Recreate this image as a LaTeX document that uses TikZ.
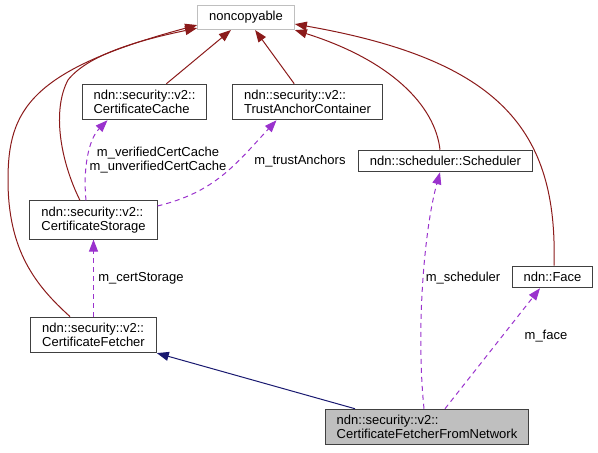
\documentclass[tikz,border=0pt]{standalone}
\usepackage{fontspec}
\setmainfont{Liberation Sans}
\usetikzlibrary{arrows.meta,positioning,calc}
\definecolor{edgered}{RGB}{139,26,26}
\definecolor{memberpurple}{RGB}{154,50,205}
\definecolor{inhnavy}{RGB}{25,25,112}
\definecolor{boxgray}{RGB}{191,191,191}

\begin{document}
\begin{tikzpicture}[x=1pt, y=-1pt, node distance=77pt,
    cls/.style={draw=black!75, line width=1pt, rectangle, fill=white, align=left,
        inner xsep=11.5pt, inner ysep=6pt, font=\fontsize{13}{14}\selectfont},
    inh/.style={draw=edgered, line width=1pt, -{Triangle[length=12pt,width=9pt]}},
    pubinh/.style={draw=inhnavy, line width=1pt, -{Triangle[length=12pt,width=9pt]}},
    member/.style={draw=memberpurple, line width=1pt, dash pattern=on 5pt off 4pt,
        -{Triangle[length=12pt,width=9pt]}},
    lbl/.style={font=\fontsize{13}{14}\selectfont, inner sep=0pt, align=center}]
    \useasboundingbox (0,0) rectangle (598,453);

    \node[cls, draw=boxgray] (nc) at (246,17.5) {noncopyable};
    \node[cls] (cache) at (144.5,102) {ndn::security::v2::\\CertificateCache};
    \node[cls] (trust) at (307.5,102) {ndn::security::v2::\\TrustAnchorContainer};
    \node[cls] (sched) at (445.5,161) {ndn::scheduler::Scheduler};
    \node[cls] (storage) at (93.5,220) {ndn::security::v2::\\CertificateStorage};
    \node[cls, below=of storage] (fetcher) {ndn::security::v2::\\CertificateFetcher};
    \node[cls] (face) at (552.5,277) {ndn::Face};
    \node[cls, fill=boxgray] (cffn) at (427,427) {ndn::security::v2::\\CertificateFetcherFromNetwork};

    % inheritance of noncopyable
    \draw[inh] (cache) -- (nc);
    \draw[inh] (trust) -- (nc);
    \draw[inh] ([xshift=-13.5pt]storage.north) .. controls (60,160) and (52,110) .. (68,80)
        .. controls (90,52) and (150,38) .. ([yshift=2pt]nc.south west);
    \draw[inh] ([xshift=-23.5pt]fetcher.north) .. controls (35,285) and (8,250) .. (8,180)
        .. controls (8,110) and (30,70) .. ([yshift=5pt]nc.south west);
    \draw[inh] ([xshift=-5.5pt]sched.north) .. controls (435,105) and (390,60) .. (nc.south east);
    \draw[inh] ([xshift=1.5pt]face.north) .. controls (558,130) and (500,60) .. ([yshift=6pt]nc.south east);
    \draw[pubinh] ([xshift=-72pt]cffn.north) -- (fetcher.south east);

    % members
    \draw[member] ([xshift=-7.5pt]storage.north) .. controls (83,170) and (88,140) .. ([xshift=-37pt]cache.south);
    \draw[member] ([yshift=14pt]storage.east) .. controls (215,192) and (235,165) .. ([xshift=-31pt]trust.south);
    \draw[member] (fetcher.north) -- (storage.south);
    \draw[member] ([xshift=-3pt]cffn.north) .. controls (416,330) and (424,230) .. ([xshift=-5.5pt]sched.south);
    \draw[member] ([xshift=18pt]cffn.north) -- ([xshift=-12.5pt]face.south);

    \node[lbl] (lcache) at (158,160) {m\_verifiedCertCache\\m\_unverifiedCertCache};
    \node[lbl] (ltrust) at (300,161) {m\_trustAnchors};
    \node[lbl] (lstorage) at (141,278) {m\_certStorage};
    \node[lbl] (lsched) at (463,278) {m\_scheduler};
    \node[lbl] (lface) at (546,336) {m\_face};
\end{tikzpicture}
\end{document}
